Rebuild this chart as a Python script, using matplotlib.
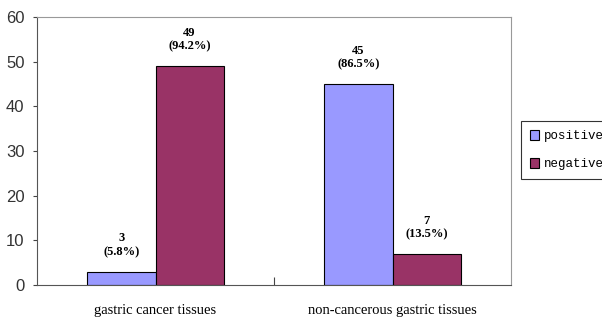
import numpy as np
import matplotlib.pyplot as plt

categories = ['gastric cancer tissues', 'non-cancerous gastric tissues']
series_names = ['positive', 'negative']
positive = [3, 45]
negative = [49, 7]
positive_pct = ['5.8%', '86.5%']
negative_pct = ['94.2%', '13.5%']
colors = ['#9999FF', '#993366']

fig = plt.figure(figsize=(6.02, 3.2), dpi=100)
ax = fig.add_axes([37 / 602, 35 / 320, (511 - 37) / 602, (285 - 17) / 320])

x = np.arange(len(categories))
w = 0.287
b1 = ax.bar(x - w / 2, positive, w, color=colors[0], edgecolor='black', linewidth=0.8, label=series_names[0])
b2 = ax.bar(x + w / 2, negative, w, color=colors[1], edgecolor='black', linewidth=0.8, label=series_names[1])

# value labels above bars
for bars, vals, pcts in [(b1, positive, positive_pct), (b2, negative, negative_pct)]:
    for r, v, p in zip(bars, vals, pcts):
        ax.text(r.get_x() + r.get_width() / 2, v + 3.0, '%d\n(%s)' % (v, p),
                ha='center', va='bottom', fontsize=9, fontweight='bold',
                family='Liberation Serif', linespacing=1.2)

ax.set_xlim(-0.5, 1.5)
ax.set_ylim(0, 60)
ax.set_yticks(range(0, 61, 10))
ax.set_yticklabels([str(t) for t in range(0, 61, 10)], family='Liberation Sans', fontsize=12, color='#333333')

ax.set_xticks([0.5])
ax.set_xticklabels([''])
ax.tick_params(axis='x', direction='in', length=6, color='#444444')
ax.tick_params(axis='y', direction='out', length=3, color='#444444', pad=6)
for i, c in enumerate(categories):
    ax.text(i, -4.3, c, ha='center', va='top', family='Liberation Serif', fontsize=10.5)

for s in ['top', 'right']:
    ax.spines[s].set_color('#999999')
for s in ['left', 'bottom']:
    ax.spines[s].set_color('#555555')

leg = fig.legend(handles=[b1, b2], loc='center left', bbox_to_anchor=(521 / 602, 1 - 150 / 320),
                 prop={'family': 'Liberation Mono', 'size': 9}, frameon=True, fancybox=False,
                 edgecolor='black', handlelength=0.7, handleheight=0.9, handletextpad=0.35,
                 borderpad=0.75, labelspacing=1.2, borderaxespad=0)
leg.get_frame().set_linewidth(0.8)

fig.savefig('out.png', dpi=100)
